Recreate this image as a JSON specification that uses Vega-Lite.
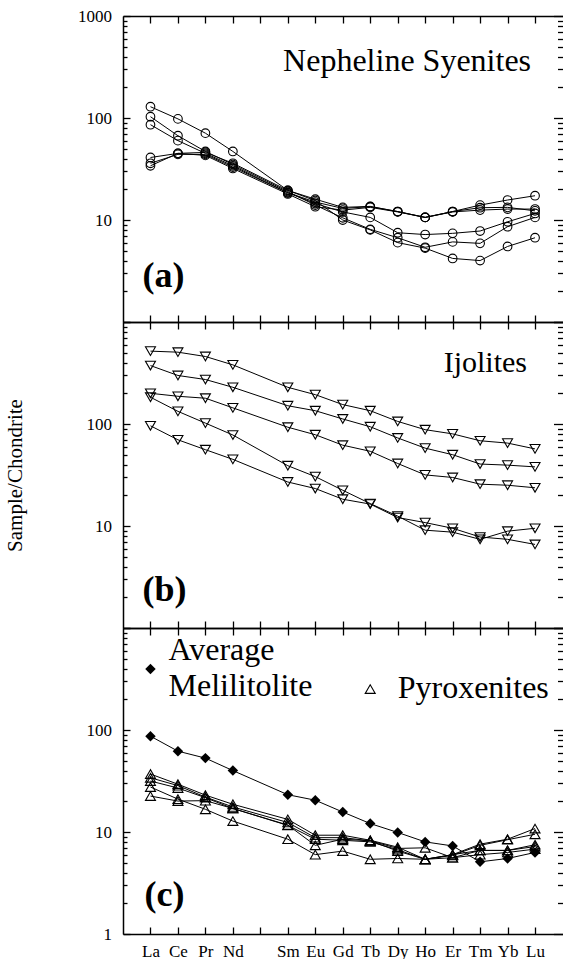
{
  "$schema": "https://vega.github.io/schema/vega-lite/v6.json",
  "padding": {"left": 4, "top": 7, "right": 0, "bottom": 0},
  "spacing": 0,
  "bounds": "flush",
  "config": {
    "font": "Liberation Serif",
    "view": {"stroke": null},
    "text": {"font": "Liberation Serif"},
    "axis": {"grid": false, "domainColor": "black", "tickColor": "black", "labelColor": "black", "titleColor": "black", "labelFont": "Liberation Serif", "titleFont": "Liberation Serif", "domainWidth": 1.5, "tickWidth": 1.3, "labelFontSize": 17}
  },
  "datasets": {
    "neph": [
      {"s":"S1","ree":"La","v":129},{"s":"S1","ree":"Ce","v":98},{"s":"S1","ree":"Pr","v":71},{"s":"S1","ree":"Nd","v":47},{"s":"S1","ree":"Sm","v":19.5},{"s":"S1","ree":"Eu","v":15.5},{"s":"S1","ree":"Gd","v":10},{"s":"S1","ree":"Tb","v":8.0},{"s":"S1","ree":"Dy","v":6.0},{"s":"S1","ree":"Ho","v":5.3},{"s":"S1","ree":"Er","v":4.2},{"s":"S1","ree":"Tm","v":4.0},{"s":"S1","ree":"Yb","v":5.5},{"s":"S1","ree":"Lu","v":6.7},
      {"s":"S2","ree":"La","v":103},{"s":"S2","ree":"Ce","v":67},{"s":"S2","ree":"Pr","v":47},{"s":"S2","ree":"Nd","v":35},{"s":"S2","ree":"Sm","v":19},{"s":"S2","ree":"Eu","v":14},{"s":"S2","ree":"Gd","v":10.5},{"s":"S2","ree":"Tb","v":8.1},{"s":"S2","ree":"Dy","v":6.7},{"s":"S2","ree":"Ho","v":5.4},{"s":"S2","ree":"Er","v":6.1},{"s":"S2","ree":"Tm","v":5.9},{"s":"S2","ree":"Yb","v":8.6},{"s":"S2","ree":"Lu","v":10.6},
      {"s":"S3","ree":"La","v":86},{"s":"S3","ree":"Ce","v":60},{"s":"S3","ree":"Pr","v":45},{"s":"S3","ree":"Nd","v":34},{"s":"S3","ree":"Sm","v":18.5},{"s":"S3","ree":"Eu","v":14.5},{"s":"S3","ree":"Gd","v":12},{"s":"S3","ree":"Tb","v":10.6},{"s":"S3","ree":"Dy","v":7.5},{"s":"S3","ree":"Ho","v":7.2},{"s":"S3","ree":"Er","v":7.4},{"s":"S3","ree":"Tm","v":7.8},{"s":"S3","ree":"Yb","v":9.6},{"s":"S3","ree":"Lu","v":11.6},
      {"s":"S4","ree":"La","v":41},{"s":"S4","ree":"Ce","v":45},{"s":"S4","ree":"Pr","v":46},{"s":"S4","ree":"Nd","v":36},{"s":"S4","ree":"Sm","v":19.5},{"s":"S4","ree":"Eu","v":16},{"s":"S4","ree":"Gd","v":13.3},{"s":"S4","ree":"Tb","v":13.6},{"s":"S4","ree":"Dy","v":12.1},{"s":"S4","ree":"Ho","v":10.6},{"s":"S4","ree":"Er","v":12.1},{"s":"S4","ree":"Tm","v":14},{"s":"S4","ree":"Yb","v":15.7},{"s":"S4","ree":"Lu","v":17.3},
      {"s":"S5","ree":"La","v":36},{"s":"S5","ree":"Ce","v":44},{"s":"S5","ree":"Pr","v":44},{"s":"S5","ree":"Nd","v":33},{"s":"S5","ree":"Sm","v":18.5},{"s":"S5","ree":"Eu","v":15},{"s":"S5","ree":"Gd","v":13},{"s":"S5","ree":"Tb","v":13.5},{"s":"S5","ree":"Dy","v":12.1},{"s":"S5","ree":"Ho","v":10.6},{"s":"S5","ree":"Er","v":12.0},{"s":"S5","ree":"Tm","v":12.5},{"s":"S5","ree":"Yb","v":12.8},{"s":"S5","ree":"Lu","v":12.8},
      {"s":"S6","ree":"La","v":34},{"s":"S6","ree":"Ce","v":45},{"s":"S6","ree":"Pr","v":43},{"s":"S6","ree":"Nd","v":32},{"s":"S6","ree":"Sm","v":18},{"s":"S6","ree":"Eu","v":13.5},{"s":"S6","ree":"Gd","v":12.5},{"s":"S6","ree":"Tb","v":13.3},{"s":"S6","ree":"Dy","v":12},{"s":"S6","ree":"Ho","v":10.6},{"s":"S6","ree":"Er","v":12.1},{"s":"S6","ree":"Tm","v":13.2},{"s":"S6","ree":"Yb","v":13.3},{"s":"S6","ree":"Lu","v":12.3}
    ],
    "ijo": [
      {"s":"T1","ree":"La","v":518},{"s":"T1","ree":"Ce","v":506},{"s":"T1","ree":"Pr","v":459},{"s":"T1","ree":"Nd","v":380},{"s":"T1","ree":"Sm","v":229},{"s":"T1","ree":"Eu","v":194},{"s":"T1","ree":"Gd","v":155},{"s":"T1","ree":"Tb","v":135},{"s":"T1","ree":"Dy","v":106},{"s":"T1","ree":"Ho","v":88},{"s":"T1","ree":"Er","v":80},{"s":"T1","ree":"Tm","v":68.5},{"s":"T1","ree":"Yb","v":65},{"s":"T1","ree":"Lu","v":57},
      {"s":"T2","ree":"La","v":374},{"s":"T2","ree":"Ce","v":299},{"s":"T2","ree":"Pr","v":273},{"s":"T2","ree":"Nd","v":229},{"s":"T2","ree":"Sm","v":151},{"s":"T2","ree":"Eu","v":135},{"s":"T2","ree":"Gd","v":112},{"s":"T2","ree":"Tb","v":94},{"s":"T2","ree":"Dy","v":73},{"s":"T2","ree":"Ho","v":58},{"s":"T2","ree":"Er","v":50},{"s":"T2","ree":"Tm","v":40.5},{"s":"T2","ree":"Yb","v":39.5},{"s":"T2","ree":"Lu","v":38},
      {"s":"T3","ree":"La","v":200},{"s":"T3","ree":"Ce","v":187},{"s":"T3","ree":"Pr","v":179},{"s":"T3","ree":"Nd","v":144},{"s":"T3","ree":"Sm","v":93},{"s":"T3","ree":"Eu","v":78.5},{"s":"T3","ree":"Gd","v":62},{"s":"T3","ree":"Tb","v":54},{"s":"T3","ree":"Dy","v":41},{"s":"T3","ree":"Ho","v":31.7},{"s":"T3","ree":"Er","v":29.9},{"s":"T3","ree":"Tm","v":25.7},{"s":"T3","ree":"Yb","v":25.1},{"s":"T3","ree":"Lu","v":23.7},
      {"s":"T4","ree":"La","v":183},{"s":"T4","ree":"Ce","v":133},{"s":"T4","ree":"Pr","v":102},{"s":"T4","ree":"Nd","v":78},{"s":"T4","ree":"Sm","v":39},{"s":"T4","ree":"Eu","v":30.5},{"s":"T4","ree":"Gd","v":22.4},{"s":"T4","ree":"Tb","v":16.6},{"s":"T4","ree":"Dy","v":12.5},{"s":"T4","ree":"Ho","v":9.1},{"s":"T4","ree":"Er","v":8.7},{"s":"T4","ree":"Tm","v":7.4},{"s":"T4","ree":"Yb","v":8.9},{"s":"T4","ree":"Lu","v":9.5},
      {"s":"T5","ree":"La","v":96},{"s":"T5","ree":"Ce","v":70},{"s":"T5","ree":"Pr","v":56},{"s":"T5","ree":"Nd","v":45},{"s":"T5","ree":"Sm","v":27},{"s":"T5","ree":"Eu","v":23.3},{"s":"T5","ree":"Gd","v":18.3},{"s":"T5","ree":"Tb","v":16.4},{"s":"T5","ree":"Dy","v":12.1},{"s":"T5","ree":"Ho","v":10.8},{"s":"T5","ree":"Er","v":9.5},{"s":"T5","ree":"Tm","v":7.8},{"s":"T5","ree":"Yb","v":7.4},{"s":"T5","ree":"Lu","v":6.6}
    ],
    "mel": [
      {"s":"M","ree":"La","v":87},{"s":"M","ree":"Ce","v":62},{"s":"M","ree":"Pr","v":53},{"s":"M","ree":"Nd","v":40},{"s":"M","ree":"Sm","v":23.2},{"s":"M","ree":"Eu","v":20.5},{"s":"M","ree":"Gd","v":15.7},{"s":"M","ree":"Tb","v":12.1},{"s":"M","ree":"Dy","v":9.9},{"s":"M","ree":"Ho","v":8.0},{"s":"M","ree":"Er","v":7.3},{"s":"M","ree":"Tm","v":5.1},{"s":"M","ree":"Yb","v":5.5},{"s":"M","ree":"Lu","v":6.3}
    ],
    "pyx": [
      {"s":"P1","ree":"La","v":37},{"s":"P1","ree":"Ce","v":29.4},{"s":"P1","ree":"Pr","v":23},{"s":"P1","ree":"Nd","v":18.7},{"s":"P1","ree":"Sm","v":13.3},{"s":"P1","ree":"Eu","v":9.3},{"s":"P1","ree":"Gd","v":9.3},{"s":"P1","ree":"Tb","v":8.3},{"s":"P1","ree":"Dy","v":7.1},{"s":"P1","ree":"Ho","v":5.4},{"s":"P1","ree":"Er","v":6.0},{"s":"P1","ree":"Tm","v":7.6},{"s":"P1","ree":"Yb","v":8.5},{"s":"P1","ree":"Lu","v":10.8},
      {"s":"P2","ree":"La","v":34},{"s":"P2","ree":"Ce","v":28.5},{"s":"P2","ree":"Pr","v":22},{"s":"P2","ree":"Nd","v":17.6},{"s":"P2","ree":"Sm","v":12.4},{"s":"P2","ree":"Eu","v":8.8},{"s":"P2","ree":"Gd","v":8.8},{"s":"P2","ree":"Tb","v":8.2},{"s":"P2","ree":"Dy","v":6.5},{"s":"P2","ree":"Ho","v":5.4},{"s":"P2","ree":"Er","v":5.9},{"s":"P2","ree":"Tm","v":7.4},{"s":"P2","ree":"Yb","v":8.4},{"s":"P2","ree":"Lu","v":9.5},
      {"s":"P3","ree":"La","v":31.6},{"s":"P3","ree":"Ce","v":27},{"s":"P3","ree":"Pr","v":21.7},{"s":"P3","ree":"Nd","v":17},{"s":"P3","ree":"Sm","v":11.7},{"s":"P3","ree":"Eu","v":7.4},{"s":"P3","ree":"Gd","v":8.5},{"s":"P3","ree":"Tb","v":8.2},{"s":"P3","ree":"Dy","v":6.9},{"s":"P3","ree":"Ho","v":7.0},{"s":"P3","ree":"Er","v":5.6},{"s":"P3","ree":"Tm","v":6.6},{"s":"P3","ree":"Yb","v":6.6},{"s":"P3","ree":"Lu","v":7.5},
      {"s":"P4","ree":"La","v":27.6},{"s":"P4","ree":"Ce","v":21},{"s":"P4","ree":"Pr","v":16.7},{"s":"P4","ree":"Nd","v":12.8},{"s":"P4","ree":"Sm","v":8.5},{"s":"P4","ree":"Eu","v":6.0},{"s":"P4","ree":"Gd","v":6.5},{"s":"P4","ree":"Tb","v":5.4},{"s":"P4","ree":"Dy","v":5.5},{"s":"P4","ree":"Ho","v":5.4},{"s":"P4","ree":"Er","v":5.6},{"s":"P4","ree":"Tm","v":6.0},{"s":"P4","ree":"Yb","v":6.3},{"s":"P4","ree":"Lu","v":6.8},
      {"s":"P5","ree":"La","v":22.5},{"s":"P5","ree":"Ce","v":20.1},{"s":"P5","ree":"Pr","v":20.3},{"s":"P5","ree":"Nd","v":17},{"s":"P5","ree":"Sm","v":11.6},{"s":"P5","ree":"Eu","v":8.5},{"s":"P5","ree":"Gd","v":8.3},{"s":"P5","ree":"Tb","v":8.0},{"s":"P5","ree":"Dy","v":6.7},{"s":"P5","ree":"Ho","v":5.4},{"s":"P5","ree":"Er","v":6.0},{"s":"P5","ree":"Tm","v":6.6},{"s":"P5","ree":"Yb","v":6.6},{"s":"P5","ree":"Lu","v":7.2}
    ]
  },
  "vconcat": [
    {
      "width": 439.5, "height": 306,
      "layer": [
        {"data": {"name": "neph"}, "mark": {"type": "line", "color": "black", "strokeWidth": 1},
         "encoding": {
           "x": {"field": "ree", "type": "ordinal", "scale": {"type": "point", "domain": ["La","Ce","Pr","Nd","Pm","Sm","Eu","Gd","Tb","Dy","Ho","Er","Tm","Yb","Lu"], "padding": 1}, "axis": {"orient": "bottom", "title": null, "labels": false, "ticks": false, "domain": true}},
           "y": {"field": "v", "type": "quantitative", "scale": {"type": "log", "domain": [1, 1000]}, "axis": {"orient": "left", "title": null, "values": [10, 100, 1000], "format": "d", "ticks": false, "domain": true, "labelPadding": 11.5}},
           "detail": {"field": "s"}}},
        {"data": {"name": "neph"}, "mark": {"type": "point", "shape": "circle", "size": 75, "filled": false, "stroke": "black", "strokeWidth": 1.1, "opacity": 1},
         "encoding": {
           "x": {"field": "ree", "type": "ordinal", "scale": {"type": "point", "domain": ["La","Ce","Pr","Nd","Pm","Sm","Eu","Gd","Tb","Dy","Ho","Er","Tm","Yb","Lu"], "padding": 1}, "axis": {"orient": "top", "title": null, "labels": false, "ticks": true, "tickSize": -7, "domain": true}},
           "y": {"field": "v", "type": "quantitative", "scale": {"type": "log", "domain": [1, 1000]}, "axis": {"orient": "left", "title": null, "values": [1, 10, 100, 1000], "labels": false, "ticks": true, "tickSize": -7, "domain": false}}}},
        {"data": {"name": "neph"}, "mark": {"type": "line", "opacity": 0},
         "encoding": {
           "x": {"field": "ree", "type": "ordinal", "scale": {"type": "point", "domain": ["La","Ce","Pr","Nd","Pm","Sm","Eu","Gd","Tb","Dy","Ho","Er","Tm","Yb","Lu"], "padding": 1}, "axis": {"orient": "bottom", "title": null, "labels": false, "ticks": true, "tickSize": -7, "domain": false}},
           "y": {"field": "v", "type": "quantitative", "scale": {"type": "log", "domain": [1, 1000]}, "axis": {"orient": "left", "title": null, "values": [2,3,4,5,6,7,8,9,20,30,40,50,60,70,80,90,200,300,400,500,600,700,800,900], "labels": false, "ticks": true, "tickSize": -4, "domain": false}},
           "detail": {"field": "s"}}},
        {"data": {"name": "neph"}, "mark": {"type": "line", "opacity": 0},
         "encoding": {
           "x": {"field": "ree", "type": "ordinal", "scale": {"type": "point", "domain": ["La","Ce","Pr","Nd","Pm","Sm","Eu","Gd","Tb","Dy","Ho","Er","Tm","Yb","Lu"], "padding": 1}, "axis": null},
           "y": {"field": "v", "type": "quantitative", "scale": {"type": "log", "domain": [1, 1000]}, "axis": {"orient": "right", "title": null, "values": [1, 10, 100, 1000], "labels": false, "ticks": true, "tickSize": -9, "domain": false}},
           "detail": {"field": "s"}}},
        {"data": {"name": "neph"}, "mark": {"type": "line", "opacity": 0},
         "encoding": {
           "x": {"field": "ree", "type": "ordinal", "scale": {"type": "point", "domain": ["La","Ce","Pr","Nd","Pm","Sm","Eu","Gd","Tb","Dy","Ho","Er","Tm","Yb","Lu"], "padding": 1}, "axis": null},
           "y": {"field": "v", "type": "quantitative", "scale": {"type": "log", "domain": [1, 1000]}, "axis": {"orient": "right", "title": null, "values": [2,3,4,5,6,7,8,9,20,30,40,50,60,70,80,90,200,300,400,500,600,700,800,900], "labels": false, "ticks": true, "tickSize": -5, "domain": false}},
           "detail": {"field": "s"}}},
        {"data": {"values": [{}]}, "mark": {"type": "text", "text": "Nepheline Syenites", "align": "right", "baseline": "alphabetic", "dx": -4, "fontSize": 32, "color": "black"},
         "encoding": {"x": {"datum": "Lu", "type": "ordinal", "axis": null}, "y": {"datum": 290, "type": "quantitative", "axis": null}}},
        {"data": {"values": [{}]}, "mark": {"type": "text", "text": "(a)", "align": "left", "baseline": "alphabetic", "dx": -8, "fontSize": 36, "fontWeight": "bold", "color": "black"},
         "encoding": {"x": {"datum": "La", "type": "ordinal", "axis": null}, "y": {"datum": 2.2, "type": "quantitative", "axis": null}}}
      ],
      "resolve": {"axis": {"x": "independent", "y": "independent"}}
    },
    {
      "width": 439.5, "height": 306,
      "layer": [
        {"data": {"name": "ijo"}, "mark": {"type": "line", "color": "black", "strokeWidth": 1},
         "encoding": {
           "x": {"field": "ree", "type": "ordinal", "scale": {"type": "point", "domain": ["La","Ce","Pr","Nd","Pm","Sm","Eu","Gd","Tb","Dy","Ho","Er","Tm","Yb","Lu"], "padding": 1}, "axis": {"orient": "bottom", "title": null, "labels": false, "ticks": false, "domain": true}},
           "y": {"field": "v", "type": "quantitative", "scale": {"type": "log", "domain": [1, 1000]}, "axis": {"orient": "left", "title": "Sample/Chondrite", "titleFontSize": 21, "titleFontWeight": "normal", "titlePadding": 61, "values": [10, 100], "format": "d", "ticks": false, "domain": true, "labelPadding": 11.5}},
           "detail": {"field": "s"}}},
        {"data": {"name": "ijo"}, "mark": {"type": "point", "shape": "triangle-down", "size": 100, "filled": false, "stroke": "black", "strokeWidth": 1.1, "opacity": 1},
         "encoding": {
           "x": {"field": "ree", "type": "ordinal", "scale": {"type": "point", "domain": ["La","Ce","Pr","Nd","Pm","Sm","Eu","Gd","Tb","Dy","Ho","Er","Tm","Yb","Lu"], "padding": 1}, "axis": {"orient": "top", "title": null, "labels": false, "ticks": true, "tickSize": -7, "domain": true}},
           "y": {"field": "v", "type": "quantitative", "scale": {"type": "log", "domain": [1, 1000]}, "axis": {"orient": "left", "title": null, "values": [1, 10, 100, 1000], "labels": false, "ticks": true, "tickSize": -7, "domain": false}}}},
        {"data": {"name": "ijo"}, "mark": {"type": "line", "opacity": 0},
         "encoding": {
           "x": {"field": "ree", "type": "ordinal", "scale": {"type": "point", "domain": ["La","Ce","Pr","Nd","Pm","Sm","Eu","Gd","Tb","Dy","Ho","Er","Tm","Yb","Lu"], "padding": 1}, "axis": {"orient": "bottom", "title": null, "labels": false, "ticks": true, "tickSize": -7, "domain": false}},
           "y": {"field": "v", "type": "quantitative", "scale": {"type": "log", "domain": [1, 1000]}, "axis": {"orient": "left", "title": null, "values": [2,3,4,5,6,7,8,9,20,30,40,50,60,70,80,90,200,300,400,500,600,700,800,900], "labels": false, "ticks": true, "tickSize": -4, "domain": false}},
           "detail": {"field": "s"}}},
        {"data": {"name": "ijo"}, "mark": {"type": "line", "opacity": 0},
         "encoding": {
           "x": {"field": "ree", "type": "ordinal", "scale": {"type": "point", "domain": ["La","Ce","Pr","Nd","Pm","Sm","Eu","Gd","Tb","Dy","Ho","Er","Tm","Yb","Lu"], "padding": 1}, "axis": null},
           "y": {"field": "v", "type": "quantitative", "scale": {"type": "log", "domain": [1, 1000]}, "axis": {"orient": "right", "title": null, "values": [1, 10, 100, 1000], "labels": false, "ticks": true, "tickSize": -9, "domain": false}},
           "detail": {"field": "s"}}},
        {"data": {"name": "ijo"}, "mark": {"type": "line", "opacity": 0},
         "encoding": {
           "x": {"field": "ree", "type": "ordinal", "scale": {"type": "point", "domain": ["La","Ce","Pr","Nd","Pm","Sm","Eu","Gd","Tb","Dy","Ho","Er","Tm","Yb","Lu"], "padding": 1}, "axis": null},
           "y": {"field": "v", "type": "quantitative", "scale": {"type": "log", "domain": [1, 1000]}, "axis": {"orient": "right", "title": null, "values": [2,3,4,5,6,7,8,9,20,30,40,50,60,70,80,90,200,300,400,500,600,700,800,900], "labels": false, "ticks": true, "tickSize": -5, "domain": false}},
           "detail": {"field": "s"}}},
        {"data": {"values": [{}]}, "mark": {"type": "text", "text": "Ijolites", "align": "right", "baseline": "alphabetic", "dx": -8, "fontSize": 30, "color": "black"},
         "encoding": {"x": {"datum": "Lu", "type": "ordinal", "axis": null}, "y": {"datum": 327, "type": "quantitative", "axis": null}}},
        {"data": {"values": [{}]}, "mark": {"type": "text", "text": "(b)", "align": "left", "baseline": "alphabetic", "dx": -8, "fontSize": 36, "fontWeight": "bold", "color": "black"},
         "encoding": {"x": {"datum": "La", "type": "ordinal", "axis": null}, "y": {"datum": 1.83, "type": "quantitative", "axis": null}}}
      ],
      "resolve": {"axis": {"x": "independent", "y": "independent"}}
    },
    {
      "width": 439.5, "height": 306,
      "layer": [
        {"data": {"name": "pyx"}, "mark": {"type": "line", "color": "black", "strokeWidth": 1},
         "encoding": {
           "x": {"field": "ree", "type": "ordinal", "scale": {"type": "point", "domain": ["La","Ce","Pr","Nd","Pm","Sm","Eu","Gd","Tb","Dy","Ho","Er","Tm","Yb","Lu"], "padding": 1}, "axis": {"orient": "bottom", "title": null, "labels": true, "labelAngle": 0, "labelFontSize": 17, "labelPadding": 9, "labelExpr": "datum.value == 'Pm' ? '' : datum.value", "ticks": false, "domain": true}},
           "y": {"field": "v", "type": "quantitative", "scale": {"type": "log", "domain": [1, 1000]}, "axis": {"orient": "left", "title": null, "values": [1, 10, 100], "format": "d", "ticks": false, "domain": true, "labelPadding": 11.5}},
           "detail": {"field": "s"}}},
        {"data": {"name": "mel"}, "mark": {"type": "line", "color": "black", "strokeWidth": 1},
         "encoding": {
           "x": {"field": "ree", "type": "ordinal", "scale": {"type": "point", "domain": ["La","Ce","Pr","Nd","Pm","Sm","Eu","Gd","Tb","Dy","Ho","Er","Tm","Yb","Lu"], "padding": 1}, "axis": null},
           "y": {"field": "v", "type": "quantitative", "scale": {"type": "log", "domain": [1, 1000]}, "axis": null}}},
        {"data": {"name": "pyx"}, "mark": {"type": "point", "shape": "triangle-up", "size": 100, "filled": false, "stroke": "black", "strokeWidth": 1.1, "opacity": 1},
         "encoding": {
           "x": {"field": "ree", "type": "ordinal", "scale": {"type": "point", "domain": ["La","Ce","Pr","Nd","Pm","Sm","Eu","Gd","Tb","Dy","Ho","Er","Tm","Yb","Lu"], "padding": 1}, "axis": {"orient": "top", "title": null, "labels": false, "ticks": true, "tickSize": -7, "domain": true}},
           "y": {"field": "v", "type": "quantitative", "scale": {"type": "log", "domain": [1, 1000]}, "axis": {"orient": "left", "title": null, "values": [1, 10, 100, 1000], "labels": false, "ticks": true, "tickSize": -7, "domain": false}}}},
        {"data": {"name": "mel"}, "mark": {"type": "point", "shape": "diamond", "size": 110, "filled": true, "color": "black", "opacity": 1},
         "encoding": {
           "x": {"field": "ree", "type": "ordinal", "scale": {"type": "point", "domain": ["La","Ce","Pr","Nd","Pm","Sm","Eu","Gd","Tb","Dy","Ho","Er","Tm","Yb","Lu"], "padding": 1}, "axis": {"orient": "bottom", "title": null, "labels": false, "ticks": true, "tickSize": -7, "domain": false}},
           "y": {"field": "v", "type": "quantitative", "scale": {"type": "log", "domain": [1, 1000]}, "axis": {"orient": "left", "title": null, "values": [2,3,4,5,6,7,8,9,20,30,40,50,60,70,80,90,200,300,400,500,600,700,800,900], "labels": false, "ticks": true, "tickSize": -4, "domain": false}}}},
        {"data": {"name": "pyx"}, "mark": {"type": "line", "opacity": 0},
         "encoding": {
           "x": {"field": "ree", "type": "ordinal", "scale": {"type": "point", "domain": ["La","Ce","Pr","Nd","Pm","Sm","Eu","Gd","Tb","Dy","Ho","Er","Tm","Yb","Lu"], "padding": 1}, "axis": null},
           "y": {"field": "v", "type": "quantitative", "scale": {"type": "log", "domain": [1, 1000]}, "axis": {"orient": "right", "title": null, "values": [1, 10, 100, 1000], "labels": false, "ticks": true, "tickSize": -9, "domain": false}},
           "detail": {"field": "s"}}},
        {"data": {"name": "pyx"}, "mark": {"type": "line", "opacity": 0},
         "encoding": {
           "x": {"field": "ree", "type": "ordinal", "scale": {"type": "point", "domain": ["La","Ce","Pr","Nd","Pm","Sm","Eu","Gd","Tb","Dy","Ho","Er","Tm","Yb","Lu"], "padding": 1}, "axis": null},
           "y": {"field": "v", "type": "quantitative", "scale": {"type": "log", "domain": [1, 1000]}, "axis": {"orient": "right", "title": null, "values": [2,3,4,5,6,7,8,9,20,30,40,50,60,70,80,90,200,300,400,500,600,700,800,900], "labels": false, "ticks": true, "tickSize": -5, "domain": false}},
           "detail": {"field": "s"}}},
        {"data": {"values": [{}]}, "mark": {"type": "point", "shape": "diamond", "size": 110, "filled": true, "color": "black", "opacity": 1},
         "encoding": {"x": {"datum": "La", "type": "ordinal", "axis": null}, "y": {"datum": 396, "type": "quantitative", "axis": null}}},
        {"data": {"values": [{}]}, "mark": {"type": "point", "shape": "triangle-up", "size": 100, "filled": false, "stroke": "black", "strokeWidth": 1.1, "opacity": 1},
         "encoding": {"x": {"datum": "Tb", "type": "ordinal", "axis": null}, "y": {"datum": 252, "type": "quantitative", "axis": null}}},
        {"data": {"values": [{}]}, "mark": {"type": "text", "text": "Average", "align": "left", "baseline": "alphabetic", "dx": 18, "fontSize": 32, "color": "black"},
         "encoding": {"x": {"datum": "La", "type": "ordinal", "axis": null}, "y": {"datum": 485, "type": "quantitative", "axis": null}}},
        {"data": {"values": [{}]}, "mark": {"type": "text", "text": "Melilitolite", "align": "left", "baseline": "alphabetic", "dx": 18, "fontSize": 32, "color": "black"},
         "encoding": {"x": {"datum": "La", "type": "ordinal", "axis": null}, "y": {"datum": 215, "type": "quantitative", "axis": null}}},
        {"data": {"values": [{}]}, "mark": {"type": "text", "text": "Pyroxenites", "align": "left", "baseline": "alphabetic", "dx": 0, "fontSize": 32, "color": "black"},
         "encoding": {"x": {"datum": "Dy", "type": "ordinal", "axis": null}, "y": {"datum": 206, "type": "quantitative", "axis": null}}},
        {"data": {"values": [{}]}, "mark": {"type": "text", "text": "(c)", "align": "left", "baseline": "alphabetic", "dx": -6, "fontSize": 36, "fontWeight": "bold", "color": "black"},
         "encoding": {"x": {"datum": "La", "type": "ordinal", "axis": null}, "y": {"datum": 1.88, "type": "quantitative", "axis": null}}}
      ],
      "resolve": {"axis": {"x": "independent", "y": "independent"}}
    }
  ]
}
